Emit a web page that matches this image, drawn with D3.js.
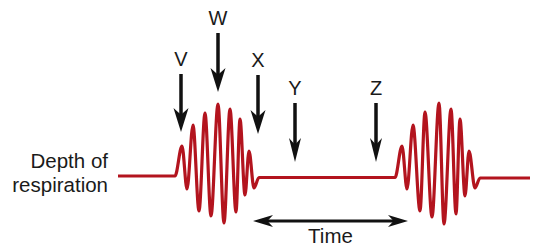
<html>
<head>
<style>
  body { margin: 0; background: white; }
  text { font-family: "Liberation Sans", Arial, sans-serif; fill: #1a1a1a; }
</style>
</head>
<body>
<script src="https://d3js.org/d3.v7.min.js"></script>
<script>

// Cheyne-Stokes breathing: depth of respiration over time
// time in arbitrary units (0..412), depth in arbitrary units (0 = rest level)
var flatTimes = [0, 57];
var flatDepths = [0, 0];

var burst1Times = [64, 69, 75, 81, 87, 93, 100, 106, 112, 118, 122, 127, 131, 136];
var burst1Depths = [30, -13, 51, -35, 63, -40, 72, -47, 67, -36, 57, -19, 25, -12];

var apneaTimes = [141, 277];
var apneaDepths = [-1.5, -1.5];

var burst2Times = [284, 289, 295, 302, 307, 314, 321, 326, 333, 338, 342, 347, 351, 357];
var burst2Depths = [30, -13, 51, -35, 64, -41, 73, -48, 67, -38, 57, -20, 25, -12];

var endTimes = [362, 412];
var endDepths = [-2, -2];

// labelled moments
var markerLabels = ["V", "W", "X", "Y", "Z"];
var markerTimes = [63, 100, 140, 177, 258];

// the "Time" span under the chart
var spanTimes = [135, 290];

// layout only
var labelBase = [66, 25, 67, 95, 95];
var tipY = [132, 92, 134, 162, 162];

var width = 534, height = 248;

var x = d3.scaleLinear().domain([0, 412]).range([118, 530]);
var y = d3.scaleLinear().domain([-50, 75]).range([226, 101]);

function zipUp(ts, ds) {
  return ts.map(function(t, i) { return { t: t, d: ds[i] }; });
}

var wave = [].concat(
  zipUp(flatTimes, flatDepths),
  zipUp(burst1Times, burst1Depths),
  zipUp(apneaTimes, apneaDepths),
  zipUp(burst2Times, burst2Depths),
  zipUp(endTimes, endDepths)
);

var svg = d3.select("body").append("svg")
  .attr("width", width)
  .attr("height", height);

var line = d3.line()
  .x(function(d) { return x(d.t); })
  .y(function(d) { return y(d.d); })
  .curve(d3.curveMonotoneX);

svg.append("path")
  .datum(wave)
  .attr("d", line)
  .attr("fill", "none")
  .attr("stroke", "#b3141e")
  .attr("stroke-width", 3.2)
  .attr("stroke-linejoin", "round");

// arrow head pointing down, tip at (0,0)
function headDown(w, len) {
  return "M0,0 L" + (-w / 2) + "," + (-len) + " L0," + (-len * 0.72) + " L" + (w / 2) + "," + (-len) + " Z";
}

var markers = markerLabels.map(function(l, i) {
  return { label: l, t: markerTimes[i], base: labelBase[i], tip: tipY[i], small: i >= 3 };
});

var mk = svg.append("g").attr("class", "markers")
  .selectAll("g").data(markers).enter()
  .append("g")
    .attr("transform", function(d) { return "translate(" + x(d.t) + ",0)"; });

mk.append("text")
  .attr("y", function(d) { return d.base; })
  .attr("text-anchor", "middle")
  .style("font-size", "20px")
  .text(function(d) { return d.label; });

mk.append("line")
  .attr("y1", function(d) { return d.base + 8; })
  .attr("y2", function(d) { return d.tip - 14; })
  .attr("stroke", "#111")
  .attr("stroke-width", 3.5);

mk.append("path")
  .attr("transform", function(d) { return "translate(0," + d.tip + ")"; })
  .attr("d", function(d) { return d.small ? headDown(12, 24) : headDown(15, 24); })
  .attr("fill", "#111");

// Time double arrow
var ty = 221;
svg.append("line")
  .attr("x1", x(spanTimes[0]) + 10)
  .attr("x2", x(spanTimes[1]) - 10)
  .attr("y1", ty).attr("y2", ty)
  .attr("stroke", "#111")
  .attr("stroke-width", 3);

svg.append("path")
  .attr("transform", "translate(" + x(spanTimes[0]) + "," + ty + ") rotate(90)")
  .attr("d", headDown(12, 20))
  .attr("fill", "#111");

svg.append("path")
  .attr("transform", "translate(" + x(spanTimes[1]) + "," + ty + ") rotate(-90)")
  .attr("d", headDown(12, 20))
  .attr("fill", "#111");

svg.append("text")
  .attr("x", (x(spanTimes[0]) + x(spanTimes[1])) / 2)
  .attr("y", 243)
  .attr("text-anchor", "middle")
  .style("font-size", "20.5px")
  .text("Time");

// axis label
var lab = svg.append("text")
  .attr("text-anchor", "end")
  .style("font-size", "20.5px");
lab.append("tspan").attr("x", 108).attr("y", 168).text("Depth of");
lab.append("tspan").attr("x", 108).attr("y", 192).text("respiration");

</script>
</body>
</html>
